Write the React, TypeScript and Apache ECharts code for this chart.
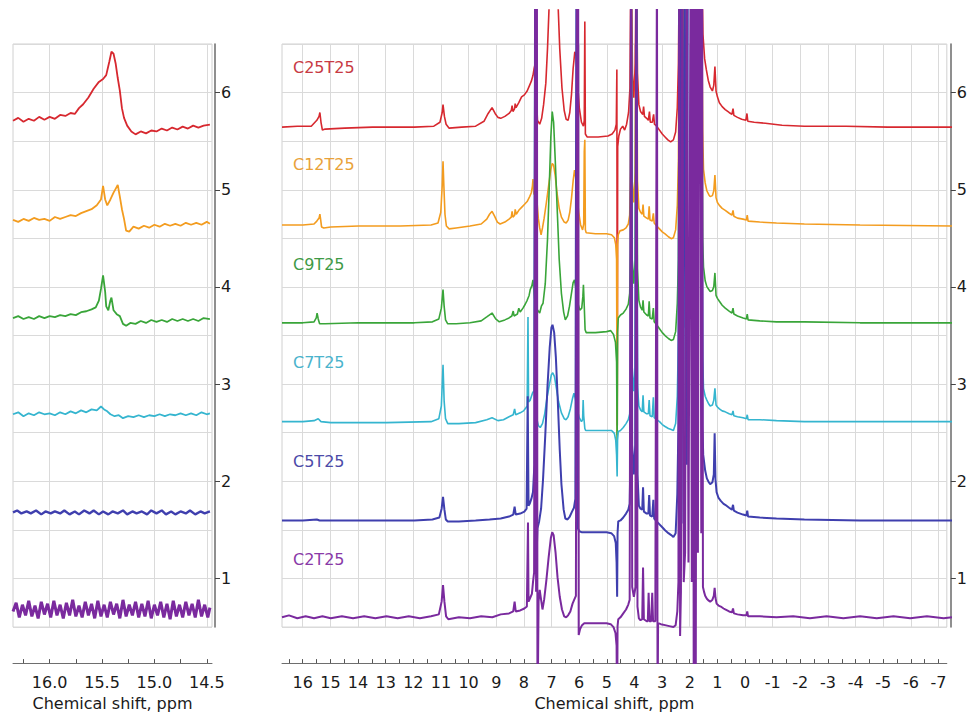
import React, { useEffect, useRef } from 'react';
import * as echarts from 'echarts';

type Pt = [number, number];

const sampleNames = ['C25T25', 'C12T25', 'C9T25', 'C7T25', 'C5T25', 'C2T25'];
const sampleColors = ['#d7282f', '#f39c1f', '#39a539', '#35b5cf', '#3f3fae', '#7a2a9e'];
const labelColors = ['#c83a44', '#e9a23a', '#3e9a46', '#4ab3cc', '#4c4aa8', '#8a3aa8'];

// ---------- left panel (16.35 … 14.47 ppm), stacked intensities ----------
const leftC25T25: Pt[] = [[16.35,5.71],[16.3,5.74],[16.25,5.7],[16.2,5.73],[16.15,5.71],[16.1,5.75],[16.05,5.72],[16.0,5.75],[15.95,5.73],[15.9,5.77],[15.85,5.76],[15.8,5.79],[15.76,5.78],[15.72,5.84],[15.68,5.88],[15.63,5.95],[15.58,6.04],[15.53,6.11],[15.49,6.14],[15.46,6.18],[15.43,6.32],[15.41,6.42],[15.39,6.4],[15.37,6.3],[15.35,6.15],[15.33,6.02],[15.31,5.84],[15.29,5.74],[15.26,5.66],[15.22,5.6],[15.18,5.57],[15.13,5.6],[15.08,5.58],[15.03,5.61],[14.98,5.6],[14.93,5.63],[14.88,5.61],[14.83,5.64],[14.78,5.62],[14.73,5.65],[14.68,5.63],[14.63,5.66],[14.58,5.64],[14.53,5.66],[14.47,5.67]];
const leftC12T25: Pt[] = [[16.35,4.69],[16.3,4.67],[16.25,4.7],[16.2,4.68],[16.15,4.71],[16.1,4.69],[16.05,4.7],[16.0,4.68],[15.95,4.72],[15.9,4.7],[15.85,4.72],[15.8,4.74],[15.75,4.73],[15.7,4.76],[15.65,4.78],[15.6,4.8],[15.55,4.84],[15.51,4.9],[15.49,5.04],[15.47,4.9],[15.45,4.84],[15.42,4.9],[15.39,4.97],[15.37,5.01],[15.35,5.05],[15.33,4.93],[15.31,4.8],[15.29,4.7],[15.27,4.58],[15.24,4.57],[15.2,4.62],[15.15,4.6],[15.1,4.63],[15.05,4.61],[15.0,4.64],[14.95,4.62],[14.9,4.65],[14.85,4.63],[14.8,4.65],[14.75,4.63],[14.7,4.66],[14.65,4.64],[14.6,4.66],[14.55,4.64],[14.5,4.67],[14.47,4.65]];
const leftC9T25: Pt[] = [[16.35,3.68],[16.3,3.7],[16.25,3.67],[16.2,3.69],[16.15,3.67],[16.1,3.7],[16.05,3.68],[16.0,3.7],[15.95,3.69],[15.9,3.71],[15.85,3.7],[15.8,3.72],[15.75,3.71],[15.7,3.74],[15.65,3.75],[15.6,3.77],[15.56,3.79],[15.53,3.86],[15.51,3.98],[15.49,4.12],[15.47,3.95],[15.46,3.8],[15.44,3.76],[15.42,3.86],[15.41,3.89],[15.39,3.76],[15.36,3.72],[15.33,3.7],[15.3,3.62],[15.27,3.6],[15.23,3.63],[15.18,3.62],[15.13,3.65],[15.08,3.63],[15.03,3.66],[14.98,3.64],[14.93,3.66],[14.88,3.64],[14.83,3.67],[14.78,3.65],[14.73,3.67],[14.68,3.65],[14.63,3.67],[14.58,3.65],[14.53,3.68],[14.47,3.67]];
const leftC7T25: Pt[] = [[16.35,2.69],[16.3,2.71],[16.25,2.67],[16.2,2.7],[16.15,2.68],[16.1,2.71],[16.05,2.69],[16.0,2.7],[15.95,2.68],[15.9,2.71],[15.85,2.69],[15.8,2.72],[15.75,2.7],[15.7,2.73],[15.65,2.71],[15.6,2.74],[15.55,2.73],[15.51,2.77],[15.48,2.74],[15.45,2.72],[15.42,2.69],[15.38,2.67],[15.34,2.68],[15.3,2.65],[15.25,2.67],[15.2,2.66],[15.15,2.68],[15.1,2.66],[15.05,2.68],[15.0,2.67],[14.95,2.69],[14.9,2.67],[14.85,2.69],[14.8,2.68],[14.75,2.7],[14.7,2.68],[14.65,2.7],[14.6,2.68],[14.55,2.71],[14.5,2.69],[14.47,2.7]];
const leftC5T25: Pt[] = [[16.35,1.68],[16.31,1.7],[16.27,1.67],[16.22,1.69],[16.18,1.67],[16.13,1.7],[16.08,1.66],[16.04,1.69],[15.99,1.67],[15.95,1.69],[15.9,1.67],[15.86,1.7],[15.81,1.66],[15.76,1.69],[15.72,1.66],[15.67,1.7],[15.62,1.67],[15.58,1.7],[15.53,1.66],[15.49,1.69],[15.44,1.66],[15.4,1.69],[15.35,1.67],[15.3,1.7],[15.26,1.66],[15.21,1.69],[15.17,1.67],[15.12,1.69],[15.07,1.66],[15.03,1.7],[14.98,1.67],[14.93,1.7],[14.89,1.66],[14.84,1.69],[14.8,1.66],[14.75,1.69],[14.7,1.67],[14.66,1.7],[14.61,1.66],[14.56,1.69],[14.52,1.67],[14.47,1.69]];
const leftC2T25: Pt[] = [[16.35,0.66],[16.32,0.75],[16.29,0.6],[16.26,0.73],[16.23,0.62],[16.2,0.77],[16.17,0.61],[16.14,0.72],[16.11,0.59],[16.08,0.76],[16.05,0.63],[16.02,0.74],[15.99,0.6],[15.96,0.77],[15.93,0.62],[15.9,0.73],[15.87,0.59],[15.84,0.75],[15.81,0.62],[15.78,0.78],[15.75,0.61],[15.72,0.72],[15.69,0.6],[15.66,0.76],[15.63,0.62],[15.6,0.74],[15.57,0.59],[15.54,0.77],[15.51,0.61],[15.48,0.73],[15.45,0.6],[15.42,0.76],[15.39,0.63],[15.36,0.74],[15.33,0.59],[15.3,0.78],[15.27,0.61],[15.24,0.73],[15.21,0.62],[15.18,0.76],[15.15,0.6],[15.12,0.74],[15.09,0.61],[15.06,0.77],[15.03,0.59],[15.0,0.73],[14.97,0.62],[14.94,0.76],[14.91,0.6],[14.88,0.74],[14.85,0.58],[14.82,0.77],[14.79,0.61],[14.76,0.73],[14.73,0.6],[14.7,0.76],[14.67,0.62],[14.64,0.74],[14.61,0.6],[14.58,0.78],[14.55,0.61],[14.52,0.73],[14.49,0.6],[14.47,0.7]];

// ---------- right panel (16.75 … -7.3 ppm), stacked intensities ----------
const rightC25T25: Pt[] = [[16.75,5.65],[16.2,5.66],[15.7,5.66],[15.5,5.72],[15.42,5.76],[15.39,5.8],[15.35,5.7],[15.3,5.62],[15.2,5.63],[14.5,5.64],[13.5,5.65],[12.0,5.65],[11.3,5.66],[11.08,5.7],[11.0,5.8],[10.97,5.88],[10.92,5.76],[10.86,5.68],[10.75,5.64],[10.3,5.65],[9.8,5.66],[9.5,5.71],[9.35,5.79],[9.21,5.85],[9.1,5.79],[9.0,5.75],[8.9,5.74],[8.75,5.76],[8.6,5.79],[8.52,5.82],[8.49,5.87],[8.46,5.81],[8.4,5.84],[8.38,5.89],[8.35,5.85],[8.25,5.9],[8.15,5.96],[8.05,5.98],[7.95,6.02],[7.86,6.08],[7.8,6.12],[7.74,6.18],[7.7,6.25],[7.67,6.29],[7.63,6.05],[7.58,5.72],[7.5,5.68],[7.43,5.74],[7.36,5.88],[7.28,6.1],[7.22,6.45],[7.16,6.9],[7.1,7.6],[7.0,8.0],[6.9,7.6],[6.84,6.9],[6.78,6.45],[6.7,6.05],[6.62,5.82],[6.55,5.73],[6.48,5.72],[6.42,5.8],[6.36,5.98],[6.3,6.25],[6.24,6.42],[6.19,6.38],[6.14,6.1],[6.08,5.85],[6.0,5.7],[5.93,5.66],[5.9,5.72],[5.88,6.73],[5.86,5.58],[5.8,5.55],[5.4,5.55],[5.05,5.56],[4.9,5.58],[4.8,5.62],[4.75,5.68],[4.73,6.24],[4.715,2.6],[4.7,5.45],[4.66,5.56],[4.6,5.63],[4.52,5.66],[4.45,5.62],[4.38,5.68],[4.31,5.8],[4.26,6.05],[4.22,7.6],[4.17,6.2],[4.12,5.95],[4.07,6.3],[4.03,7.6],[3.99,6.2],[3.94,5.88],[3.88,5.81],[3.8,5.78],[3.77,5.86],[3.74,5.76],[3.66,5.74],[3.6,5.72],[3.56,5.81],[3.53,5.7],[3.46,5.7],[3.41,5.78],[3.38,5.68],[3.3,5.66],[3.2,5.62],[3.1,5.58],[3.0,5.55],[2.9,5.52],[2.8,5.5],[2.7,5.52],[2.62,5.6],[2.56,5.85],[2.52,6.3],[2.48,7.6],[2.44,6.1],[2.4,7.6],[2.33,6.3],[2.28,7.6],[2.2,7.6],[2.0,7.6],[1.8,7.6],[1.7,7.6],[1.64,6.6],[1.58,6.35],[1.52,6.24],[1.45,6.13],[1.38,6.06],[1.3,6.02],[1.25,6.08],[1.21,6.27],[1.17,6.02],[1.12,5.96],[1.05,5.9],[0.95,5.86],[0.84,5.83],[0.7,5.8],[0.6,5.78],[0.56,5.84],[0.53,5.77],[0.4,5.75],[0.25,5.73],[0.1,5.72],[0.06,5.79],[0.03,5.71],[-0.2,5.7],[-0.6,5.69],[-1.2,5.67],[-2.0,5.66],[-3.5,5.66],[-5.0,5.65],[-7.3,5.65]];
const rightC12T25: Pt[] = [[16.75,4.65],[16.0,4.65],[15.6,4.66],[15.5,4.69],[15.45,4.71],[15.42,4.72],[15.39,4.76],[15.36,4.7],[15.33,4.63],[15.25,4.62],[15.0,4.63],[14.0,4.64],[12.5,4.64],[11.4,4.65],[11.15,4.67],[11.05,4.78],[11.0,5.05],[10.97,5.3],[10.94,5.05],[10.9,4.76],[10.85,4.64],[10.75,4.61],[10.5,4.62],[10.0,4.64],[9.6,4.66],[9.4,4.71],[9.3,4.76],[9.21,4.79],[9.12,4.74],[9.02,4.68],[8.92,4.66],[8.75,4.68],[8.6,4.71],[8.52,4.73],[8.49,4.79],[8.46,4.73],[8.4,4.75],[8.38,4.81],[8.34,4.76],[8.25,4.8],[8.15,4.83],[8.05,4.86],[7.95,4.89],[7.86,4.94],[7.8,4.98],[7.76,5.05],[7.74,5.12],[7.71,4.97],[7.66,4.95],[7.6,4.9],[7.55,4.72],[7.5,4.62],[7.45,4.55],[7.4,4.62],[7.34,4.72],[7.26,4.88],[7.18,5.05],[7.1,5.22],[7.05,5.28],[7.0,5.26],[6.94,5.15],[6.88,4.98],[6.8,4.82],[6.72,4.73],[6.62,4.68],[6.55,4.67],[6.48,4.7],[6.42,4.78],[6.36,4.92],[6.3,5.1],[6.25,5.21],[6.21,5.14],[6.16,4.95],[6.1,4.78],[6.03,4.65],[5.96,4.6],[5.92,4.66],[5.9,5.4],[5.88,5.52],[5.86,4.6],[5.83,4.57],[5.5,4.56],[5.1,4.56],[4.92,4.55],[4.82,4.52],[4.77,4.45],[4.74,4.3],[4.72,2.5],[4.705,4.45],[4.68,4.55],[4.62,4.59],[4.5,4.6],[4.4,4.62],[4.32,4.66],[4.27,4.75],[4.24,5.2],[4.22,7.6],[4.18,5.1],[4.12,4.88],[4.07,5.2],[4.03,7.6],[3.99,5.1],[3.94,4.82],[3.88,4.78],[3.82,4.76],[3.79,4.86],[3.76,4.74],[3.66,4.72],[3.6,4.71],[3.57,4.84],[3.54,4.7],[3.46,4.69],[3.42,4.77],[3.39,4.67],[3.3,4.64],[3.2,4.61],[3.1,4.58],[3.0,4.56],[2.88,4.53],[2.78,4.51],[2.7,4.52],[2.62,4.6],[2.56,4.85],[2.52,5.3],[2.48,7.6],[2.44,5.6],[2.4,7.6],[2.33,5.9],[2.28,7.6],[2.2,7.6],[1.8,7.6],[1.7,7.6],[1.65,5.6],[1.62,5.22],[1.56,5.08],[1.5,5.0],[1.43,4.96],[1.38,4.94],[1.3,4.95],[1.25,5.0],[1.21,5.16],[1.17,4.93],[1.12,4.88],[1.05,4.85],[0.95,4.82],[0.84,4.8],[0.7,4.77],[0.6,4.75],[0.56,4.8],[0.53,4.74],[0.4,4.72],[0.2,4.71],[0.08,4.7],[0.05,4.75],[0.02,4.69],[-0.4,4.68],[-1.0,4.67],[-2.0,4.66],[-4.0,4.65],[-7.3,4.64]];
const rightC9T25: Pt[] = [[16.75,3.65],[16.0,3.65],[15.6,3.66],[15.52,3.7],[15.49,3.75],[15.45,3.69],[15.4,3.64],[15.2,3.64],[14.0,3.65],[12.0,3.65],[11.35,3.66],[11.12,3.69],[11.03,3.8],[10.97,3.99],[10.93,3.82],[10.88,3.68],[10.8,3.64],[10.5,3.64],[10.0,3.65],[9.6,3.67],[9.4,3.71],[9.21,3.75],[9.08,3.69],[8.95,3.66],[8.75,3.68],[8.6,3.7],[8.5,3.72],[8.45,3.77],[8.42,3.72],[8.3,3.74],[8.25,3.8],[8.2,3.76],[8.1,3.8],[8.02,3.84],[7.95,3.88],[7.88,3.93],[7.84,3.99],[7.78,4.03],[7.74,4.09],[7.7,3.95],[7.65,3.82],[7.58,3.78],[7.5,3.75],[7.44,3.82],[7.38,3.85],[7.3,4.05],[7.22,4.5],[7.15,5.1],[7.1,5.55],[7.05,5.81],[7.0,5.7],[6.94,5.3],[6.87,4.8],[6.8,4.3],[6.72,3.95],[6.64,3.76],[6.58,3.68],[6.5,3.72],[6.43,3.82],[6.36,3.95],[6.3,4.06],[6.25,4.09],[6.2,4.0],[6.14,3.86],[6.06,3.78],[5.99,3.8],[5.95,3.92],[5.93,4.04],[5.9,3.82],[5.87,3.58],[5.83,3.55],[5.5,3.55],[5.1,3.56],[4.95,3.57],[4.85,3.53],[4.78,3.45],[4.74,3.25],[4.72,2.42],[4.705,3.55],[4.68,3.7],[4.6,3.73],[4.5,3.75],[4.4,3.79],[4.32,3.84],[4.27,3.95],[4.24,4.4],[4.22,7.6],[4.18,4.3],[4.12,4.05],[4.07,4.3],[4.03,7.6],[3.99,4.2],[3.94,3.88],[3.88,3.81],[3.82,3.78],[3.79,3.88],[3.76,3.76],[3.66,3.73],[3.6,3.72],[3.57,3.87],[3.54,3.7],[3.46,3.69],[3.42,3.8],[3.39,3.66],[3.3,3.63],[3.2,3.59],[3.1,3.55],[3.0,3.52],[2.88,3.49],[2.78,3.47],[2.7,3.48],[2.62,3.56],[2.56,3.85],[2.52,4.3],[2.48,7.6],[2.44,4.6],[2.4,7.6],[2.33,4.9],[2.28,7.6],[2.2,7.6],[1.8,7.6],[1.7,7.6],[1.65,4.5],[1.62,4.22],[1.56,4.08],[1.5,4.02],[1.43,3.99],[1.38,3.97],[1.3,3.98],[1.25,4.02],[1.21,4.16],[1.17,3.93],[1.12,3.9],[1.05,3.87],[0.95,3.83],[0.84,3.8],[0.7,3.77],[0.6,3.75],[0.56,3.8],[0.53,3.74],[0.4,3.72],[0.2,3.7],[0.08,3.69],[0.05,3.74],[0.02,3.68],[-0.4,3.67],[-1.0,3.66],[-2.0,3.66],[-4.0,3.65],[-7.3,3.65]];
const rightC7T25: Pt[] = [[16.75,2.64],[16.0,2.64],[15.6,2.65],[15.45,2.67],[15.35,2.64],[15.0,2.63],[13.0,2.63],[11.4,2.64],[11.12,2.67],[11.03,2.8],[10.97,3.22],[10.93,2.85],[10.88,2.67],[10.8,2.62],[10.4,2.62],[9.8,2.63],[9.4,2.66],[9.21,2.68],[9.0,2.65],[8.8,2.66],[8.6,2.69],[8.45,2.71],[8.4,2.77],[8.36,2.71],[8.2,2.73],[8.08,2.75],[8.0,2.78],[7.95,2.8],[7.92,3.71],[7.9,2.84],[7.84,2.86],[7.76,2.93],[7.7,2.96],[7.67,7.6],[7.63,2.7],[7.55,2.6],[7.48,2.58],[7.4,2.62],[7.32,2.72],[7.24,2.88],[7.15,3.02],[7.08,3.12],[7.03,3.14],[6.97,3.1],[6.9,2.98],[6.82,2.84],[6.72,2.73],[6.62,2.67],[6.55,2.66],[6.48,2.69],[6.4,2.77],[6.32,2.88],[6.27,2.93],[6.22,2.88],[6.17,2.78],[6.08,2.68],[6.0,2.64],[5.96,2.66],[5.94,2.86],[5.92,2.7],[5.88,2.57],[5.85,2.55],[5.5,2.55],[5.1,2.55],[4.92,2.55],[4.82,2.52],[4.77,2.45],[4.74,2.3],[4.72,2.08],[4.705,2.45],[4.68,2.54],[4.6,2.55],[4.5,2.58],[4.4,2.62],[4.32,2.66],[4.27,2.72],[4.24,3.1],[4.22,7.6],[4.18,3.2],[4.12,2.95],[4.07,3.2],[4.03,7.6],[3.99,3.0],[3.94,2.8],[3.88,2.76],[3.82,2.74],[3.79,2.91],[3.76,2.74],[3.66,2.72],[3.6,2.72],[3.57,2.86],[3.54,2.7],[3.46,2.69],[3.42,2.89],[3.39,2.68],[3.3,2.66],[3.2,2.64],[3.1,2.61],[3.0,2.59],[2.88,2.57],[2.78,2.56],[2.7,2.55],[2.62,2.62],[2.56,2.9],[2.52,3.5],[2.48,7.6],[2.44,3.3],[2.4,7.6],[2.33,3.6],[2.28,7.6],[2.2,7.6],[1.8,7.6],[1.7,7.6],[1.65,3.3],[1.62,2.98],[1.56,2.9],[1.5,2.86],[1.43,2.82],[1.38,2.8],[1.3,2.81],[1.25,2.86],[1.21,2.98],[1.17,2.81],[1.12,2.79],[1.05,2.77],[0.95,2.75],[0.84,2.74],[0.7,2.72],[0.6,2.71],[0.56,2.75],[0.53,2.7],[0.4,2.69],[0.2,2.68],[0.08,2.67],[0.05,2.71],[0.02,2.66],[-0.4,2.66],[-1.0,2.65],[-2.0,2.64],[-4.0,2.64],[-7.3,2.64]];
const rightC5T25: Pt[] = [[16.75,1.63],[16.0,1.63],[15.5,1.64],[15.4,1.63],[14.0,1.63],[12.0,1.63],[11.35,1.64],[11.1,1.66],[11.02,1.75],[10.97,1.87],[10.92,1.74],[10.87,1.64],[10.8,1.62],[10.4,1.62],[9.8,1.63],[9.3,1.64],[8.9,1.65],[8.6,1.67],[8.45,1.69],[8.4,1.77],[8.36,1.69],[8.2,1.7],[8.05,1.72],[7.97,1.75],[7.93,2.9],[7.9,1.78],[7.86,1.8],[7.8,1.85],[7.74,1.92],[7.69,2.2],[7.66,7.6],[7.62,1.2],[7.58,1.55],[7.52,1.62],[7.45,1.75],[7.38,2.05],[7.3,2.5],[7.22,3.0],[7.14,3.4],[7.08,3.6],[7.04,3.63],[6.98,3.55],[6.92,3.3],[6.85,2.85],[6.78,2.35],[6.72,2.0],[6.64,1.74],[6.58,1.65],[6.5,1.64],[6.42,1.67],[6.34,1.72],[6.27,1.76],[6.22,1.85],[6.18,7.6],[6.13,1.55],[6.08,1.52],[6.0,1.51],[5.5,1.51],[5.1,1.51],[4.93,1.5],[4.83,1.47],[4.77,1.4],[4.74,1.2],[4.72,0.85],[4.705,1.5],[4.68,1.62],[4.6,1.63],[4.5,1.66],[4.4,1.7],[4.32,1.74],[4.27,1.8],[4.24,2.3],[4.22,7.6],[4.18,2.4],[4.12,2.1],[4.07,2.4],[4.03,7.6],[3.99,2.1],[3.94,1.78],[3.88,1.75],[3.82,1.74],[3.79,1.97],[3.76,1.72],[3.66,1.7],[3.6,1.7],[3.57,1.89],[3.54,1.68],[3.46,1.67],[3.42,1.84],[3.39,1.65],[3.3,1.62],[3.2,1.59],[3.1,1.56],[3.0,1.53],[2.88,1.5],[2.78,1.48],[2.7,1.46],[2.62,1.5],[2.56,1.9],[2.52,2.6],[2.48,7.6],[2.44,2.0],[2.4,7.6],[2.34,1.6],[2.3,7.6],[2.22,2.2],[2.18,7.6],[2.1,7.6],[1.8,7.6],[1.7,7.6],[1.66,2.6],[1.63,2.3],[1.56,2.14],[1.5,2.06],[1.43,2.02],[1.38,2.0],[1.3,2.02],[1.25,2.1],[1.22,2.52],[1.19,2.05],[1.15,1.92],[1.08,1.86],[1.0,1.83],[0.9,1.8],[0.84,1.79],[0.7,1.76],[0.6,1.74],[0.56,1.79],[0.53,1.73],[0.4,1.71],[0.2,1.69],[0.08,1.68],[0.05,1.73],[0.02,1.67],[-0.4,1.66],[-1.0,1.65],[-2.0,1.64],[-4.0,1.63],[-7.3,1.63]];
const rightC2T25: Pt[] = [[16.75,0.64],[16.5,0.66],[16.2,0.63],[15.9,0.65],[15.6,0.63],[15.3,0.65],[15.0,0.63],[14.6,0.65],[14.2,0.63],[13.8,0.65],[13.4,0.63],[13.0,0.65],[12.6,0.63],[12.2,0.65],[11.8,0.63],[11.4,0.65],[11.12,0.67],[11.02,0.8],[10.97,0.97],[10.92,0.8],[10.86,0.65],[10.78,0.62],[10.4,0.64],[10.0,0.63],[9.6,0.65],[9.2,0.64],[8.9,0.67],[8.6,0.68],[8.45,0.7],[8.4,0.8],[8.36,0.7],[8.2,0.71],[8.05,0.73],[7.96,0.75],[7.92,1.61],[7.9,0.8],[7.84,0.84],[7.78,0.88],[7.74,1.0],[7.7,1.1],[7.66,7.6],[7.63,0.9],[7.6,7.6],[7.58,-0.5],[7.54,0.8],[7.5,0.92],[7.45,0.82],[7.4,0.72],[7.34,0.82],[7.26,1.02],[7.18,1.25],[7.1,1.45],[7.05,1.51],[7.0,1.48],[6.93,1.3],[6.86,1.05],[6.78,0.85],[6.7,0.72],[6.62,0.65],[6.55,0.64],[6.48,0.66],[6.4,0.7],[6.32,0.78],[6.26,0.82],[6.2,0.86],[6.16,7.6],[6.12,7.6],[6.1,0.46],[6.05,0.52],[5.98,0.56],[5.9,0.58],[5.5,0.58],[5.1,0.58],[4.95,0.57],[4.85,0.54],[4.78,0.48],[4.74,0.35],[4.72,-0.5],[4.705,0.55],[4.68,0.62],[4.6,0.64],[4.5,0.68],[4.4,0.72],[4.32,0.77],[4.27,0.82],[4.22,7.6],[4.18,0.95],[4.12,0.85],[4.06,0.95],[4.03,7.6],[3.99,0.75],[3.94,0.63],[3.88,0.61],[3.82,0.62],[3.79,1.15],[3.76,0.62],[3.66,0.6],[3.62,0.6],[3.59,0.89],[3.56,0.6],[3.5,0.6],[3.46,0.89],[3.43,0.6],[3.35,0.6],[3.29,7.6],[3.27,-0.5],[3.25,0.58],[3.15,0.57],[3.0,0.56],[2.85,0.55],[2.7,0.54],[2.62,0.56],[2.56,0.7],[2.52,1.0],[2.49,7.6],[2.46,0.45],[2.43,0.9],[2.38,7.6],[2.33,1.0],[2.28,1.3],[2.22,7.6],[2.16,1.2],[2.08,7.6],[2.04,1.0],[2.0,7.6],[1.97,-0.5],[1.94,7.6],[1.9,-0.5],[1.86,7.6],[1.82,1.3],[1.78,7.6],[1.74,7.6],[1.7,1.5],[1.67,7.6],[1.64,0.95],[1.6,0.9],[1.56,0.86],[1.5,0.83],[1.43,0.81],[1.38,0.8],[1.3,0.82],[1.25,0.86],[1.22,0.94],[1.19,0.84],[1.15,0.78],[1.08,0.76],[1.0,0.75],[0.9,0.73],[0.84,0.72],[0.7,0.7],[0.6,0.69],[0.56,0.73],[0.53,0.68],[0.4,0.67],[0.2,0.66],[0.08,0.66],[0.05,0.7],[0.02,0.65],[-0.4,0.65],[-1.0,0.64],[-1.6,0.65],[-2.2,0.63],[-2.8,0.65],[-3.4,0.63],[-4.0,0.65],[-4.6,0.63],[-5.2,0.65],[-5.8,0.63],[-6.4,0.65],[-7.0,0.63],[-7.3,0.64]];

const leftSpectra = [leftC25T25, leftC12T25, leftC9T25, leftC7T25, leftC5T25, leftC2T25];
const rightSpectra = [rightC25T25, rightC12T25, rightC9T25, rightC7T25, rightC5T25, rightC2T25];

// ---------- ticks ----------
const yTickValues = [1, 2, 3, 4, 5, 6];
const ySplitValues = [0.5, 1, 1.5, 2, 2.5, 3, 3.5, 4, 4.5, 5, 5.5, 6, 6.5];
const leftXLabelValues = [16.0, 15.5, 15.0, 14.5];
const leftXTickValues = [16.25, 16.0, 15.75, 15.5, 15.25, 15.0, 14.75, 14.5];
const rightXLabelValues = [16, 15, 14, 13, 12, 11, 10, 9, 8, 7, 6, 5, 4, 3, 2, 1, 0, -1, -2, -3, -4, -5, -6, -7];
const rightXTickValues = [16.5, 16, 15.5, 15, 14.5, 14, 13.5, 13, 12.5, 12, 11.5, 11, 10.5, 10, 9.5, 9, 8.5, 8, 7.5, 7, 6.5, 6, 5.5, 5, 4.5, 4, 3.5, 3, 2.5, 2, 1.5, 1, 0.5, 0, -0.5, -1, -1.5, -2, -2.5, -3, -3.5, -4, -4.5, -5, -5.5, -6, -6.5, -7];

// ---------- layout ----------
const FONT = '"DejaVu Sans", Verdana, sans-serif';
const GRID_COLOR = '#dadada';
const FRAME_TOP = 44;
const FRAME_H = 587;
const Y_MIN = 0.5;
const Y_MAX = 6.5;
const VIEW_TOP = 10;
const VIEW_BOTTOM = 663;
const PX_PER_UNIT = FRAME_H / (Y_MAX - Y_MIN);
const VIEW_Y_MAX = Y_MAX + (FRAME_TOP - VIEW_TOP) / PX_PER_UNIT;
const VIEW_Y_MIN = Y_MIN - (VIEW_BOTTOM - (FRAME_TOP + FRAME_H)) / PX_PER_UNIT;
const LEFT_X = { min: 14.45, max: 16.35 };
const RIGHT_X = { min: -7.3, max: 16.75 };
const labelTops = [59, 156, 256, 354, 453, 551];
const leftWidths = [1.8, 1.8, 1.8, 1.8, 2.4, 3];

function buildOption(): echarts.EChartsOption {
  const splitX = (gridIndex: number, r: { min: number; max: number }, vals: number[]) => ({
    gridIndex, type: 'value', min: r.min, max: r.max, inverse: true, position: 'bottom',
    axisLine: { show: false }, axisTick: { show: false, customValues: vals },
    axisLabel: { show: false }, splitLine: { show: true, lineStyle: { color: GRID_COLOR, width: 1 } },
  });
  const labelX = (gridIndex: number, r: { min: number; max: number }, ticks: number[], labels: number[], fmt: (v: number) => string) => ({
    gridIndex, type: 'value', min: r.min, max: r.max, inverse: true, position: 'bottom', offset: 36,
    axisLine: { show: true, onZero: false, lineStyle: { color: '#6e6e6e', width: 1 } },
    axisTick: { show: true, inside: true, length: 4, customValues: ticks, lineStyle: { color: '#555' } },
    axisLabel: { customValues: labels, formatter: fmt, fontSize: 16, color: '#1a1a1a', fontFamily: FONT, margin: 11 },
    splitLine: { show: false },
    name: 'Chemical shift, ppm', nameLocation: 'middle', nameGap: 31,
    nameTextStyle: { fontSize: 16, color: '#1a1a1a', fontFamily: FONT },
  });
  const splitY = (gridIndex: number) => ({
    gridIndex, type: 'value', min: Y_MIN, max: Y_MAX, position: 'left',
    axisLine: { show: false, onZero: false }, axisTick: { show: false, customValues: ySplitValues },
    axisLabel: { show: false }, splitLine: { show: true, lineStyle: { color: GRID_COLOR, width: 1 } },
  });
  const labelY = (gridIndex: number, offset: number) => ({
    gridIndex, type: 'value', min: Y_MIN, max: Y_MAX, position: 'right', offset,
    axisLine: { show: true, onZero: false, lineStyle: { color: '#6a6a6a', width: 1.5 } },
    axisTick: { show: true, length: 5, customValues: yTickValues, lineStyle: { color: '#444' } },
    axisLabel: { customValues: yTickValues, fontSize: 16, color: '#1a1a1a', fontFamily: FONT, margin: 6 },
    splitLine: { show: false },
  });

  const series: any[] = [];
  leftSpectra.forEach((d, i) => {
    series.push({
      type: 'line', name: sampleNames[i] + ' (14.5-16 ppm)', xAxisIndex: 0, yAxisIndex: 0, data: d,
      showSymbol: false, symbol: 'none', clip: true, silent: true, z: 2 + i,
      lineStyle: { color: sampleColors[i], width: leftWidths[i] }, itemStyle: { color: sampleColors[i] },
    });
  });
  rightSpectra.forEach((d, i) => {
    series.push({
      type: 'line', name: sampleNames[i], xAxisIndex: 4, yAxisIndex: 4, data: d,
      showSymbol: false, symbol: 'none', clip: true, silent: true, z: 2 + i,
      lineStyle: { color: sampleColors[i], width: i >= 4 ? 2 : 1.6 }, itemStyle: { color: sampleColors[i] },
    });
  });

  return {
    animation: false,
    backgroundColor: '#ffffff',
    grid: [
      { left: 13, top: FRAME_TOP, width: 199, height: FRAME_H, show: true, borderColor: '#d0d0d0', borderWidth: 1 },
      { left: 282, top: FRAME_TOP, width: 670, height: FRAME_H, show: true, borderColor: '#d0d0d0', borderWidth: 1 },
      { left: 282, top: VIEW_TOP, width: 670, height: VIEW_BOTTOM - VIEW_TOP, show: false },
    ],
    xAxis: [
      splitX(0, LEFT_X, leftXLabelValues),
      labelX(0, LEFT_X, leftXTickValues, leftXLabelValues, (v: number) => v.toFixed(1)),
      splitX(1, RIGHT_X, rightXLabelValues),
      labelX(1, RIGHT_X, rightXTickValues, rightXLabelValues, (v: number) => String(v)),
      { gridIndex: 2, type: 'value', min: RIGHT_X.min, max: RIGHT_X.max, inverse: true, position: 'bottom', show: false },
    ] as any,
    yAxis: [
      splitY(0),
      labelY(0, 3),
      splitY(1),
      labelY(1, 4),
      { gridIndex: 2, type: 'value', min: VIEW_Y_MIN, max: VIEW_Y_MAX, position: 'left', show: false, axisLine: { onZero: false } },
    ] as any,
    graphic: sampleNames.map((n, i) => ({
      type: 'text', left: 293, top: labelTops[i], z: 50,
      style: { text: n, fill: labelColors[i], font: `16px ${FONT}` },
    })),
    series,
  } as any;
}

export default function App() {
  const ref = useRef<HTMLDivElement>(null);
  useEffect(() => {
    if (!ref.current) return;
    const chart = echarts.init(ref.current, undefined, { renderer: 'svg' });
    chart.setOption(buildOption());
    return () => chart.dispose();
  }, []);
  return (
    <div
      ref={ref}
      style={{ position: 'absolute', left: 0, top: 0, width: 970, height: 716, background: '#fff' }}
    />
  );
}
